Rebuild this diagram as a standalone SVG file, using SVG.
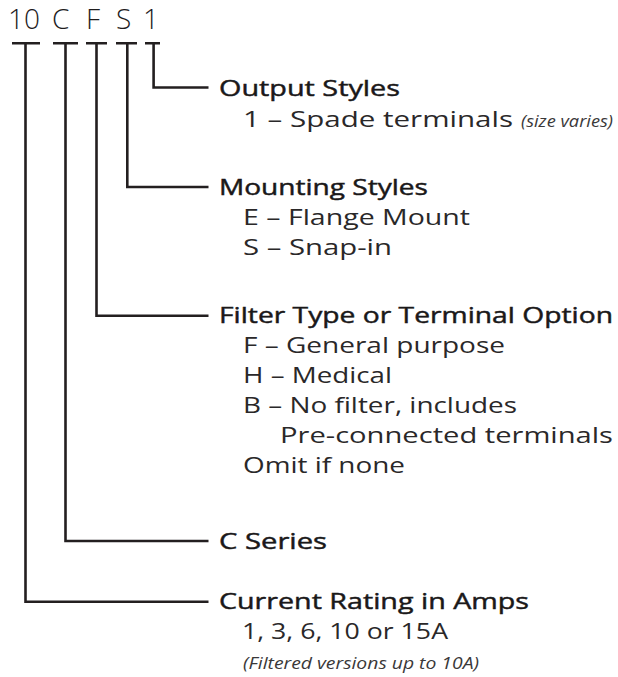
<svg xmlns="http://www.w3.org/2000/svg" width="618" height="677" viewBox="0 0 618 677">
<style>
text { font-family: "Open Sans", "Noto Sans", "DejaVu Sans", sans-serif; fill: #1e1c1d; }
.code { font-size: 28px; font-weight: 300; }
.head { font-size: 22px; font-weight: 400; fill: #1a1819; stroke: #1a1819; stroke-width: 0.45px; }
.item { font-size: 21px; font-weight: 400; fill: #2a2829; }
.note { font-size: 16px; font-style: italic; font-weight: 400; fill: #3a3839; }
.ln { fill: none; stroke: #231f20; stroke-width: 2.6; stroke-linecap: butt; stroke-linejoin: miter; }
</style>
<rect width="618" height="677" fill="#ffffff"/>
<g id="code">
  <text class="code" y="29"><tspan x="8">10</tspan><tspan x="52">C</tspan><tspan x="86">F</tspan><tspan x="116">S</tspan><tspan x="143">1</tspan></text>
</g>
<g id="connectors">
  <path class="ln" d="M12 43.3H40 M25.5 43.3V601.7H208.5"/>
  <path class="ln" d="M53 43.3H78 M65.5 43.3V541H208.5"/>
  <path class="ln" d="M86 43.3H107 M96.5 43.3V315.7H208.5"/>
  <path class="ln" d="M116 43.3H137 M127.3 43.3V187H208.5"/>
  <path class="ln" d="M145 43.3H160 M153.6 43.3V87.5H208.5"/>
</g>
<g id="output-styles">
  <text class="head" x="219" y="96" textLength="181" lengthAdjust="spacingAndGlyphs">Output Styles</text>
  <text class="item" x="243" y="127" textLength="270" lengthAdjust="spacingAndGlyphs">1 – Spade terminals</text>
  <text class="note" x="521" y="127" textLength="92" lengthAdjust="spacingAndGlyphs">(size varies)</text>
</g>
<g id="mounting-styles">
  <text class="head" x="219" y="195" textLength="209" lengthAdjust="spacingAndGlyphs">Mounting Styles</text>
  <text class="item" x="243" y="225" textLength="227" lengthAdjust="spacingAndGlyphs">E – Flange Mount</text>
  <text class="item" x="243" y="255" textLength="149" lengthAdjust="spacingAndGlyphs">S – Snap-in</text>
</g>
<g id="filter-type">
  <text class="head" x="219" y="323" textLength="394" lengthAdjust="spacingAndGlyphs">Filter Type or Terminal Option</text>
  <text class="item" x="243" y="353" textLength="262" lengthAdjust="spacingAndGlyphs">F – General purpose</text>
  <text class="item" x="243" y="383" textLength="149" lengthAdjust="spacingAndGlyphs">H – Medical</text>
  <text class="item" x="243" y="413" textLength="274" lengthAdjust="spacingAndGlyphs">B – No filter, includes</text>
  <text class="item" x="280" y="443" textLength="333" lengthAdjust="spacingAndGlyphs">Pre-connected terminals</text>
  <text class="item" x="243" y="473" textLength="162" lengthAdjust="spacingAndGlyphs">Omit if none</text>
</g>
<g id="c-series">
  <text class="head" x="219" y="549" textLength="108" lengthAdjust="spacingAndGlyphs">C Series</text>
</g>
<g id="current-rating">
  <text class="head" x="219" y="609" textLength="310" lengthAdjust="spacingAndGlyphs">Current Rating in Amps</text>
  <text class="item" x="242" y="639" textLength="206" lengthAdjust="spacingAndGlyphs">1, 3, 6, 10 or 15A</text>
  <text class="note" x="243" y="669" textLength="236" lengthAdjust="spacingAndGlyphs">(Filtered versions up to 10A)</text>
</g>
</svg>
